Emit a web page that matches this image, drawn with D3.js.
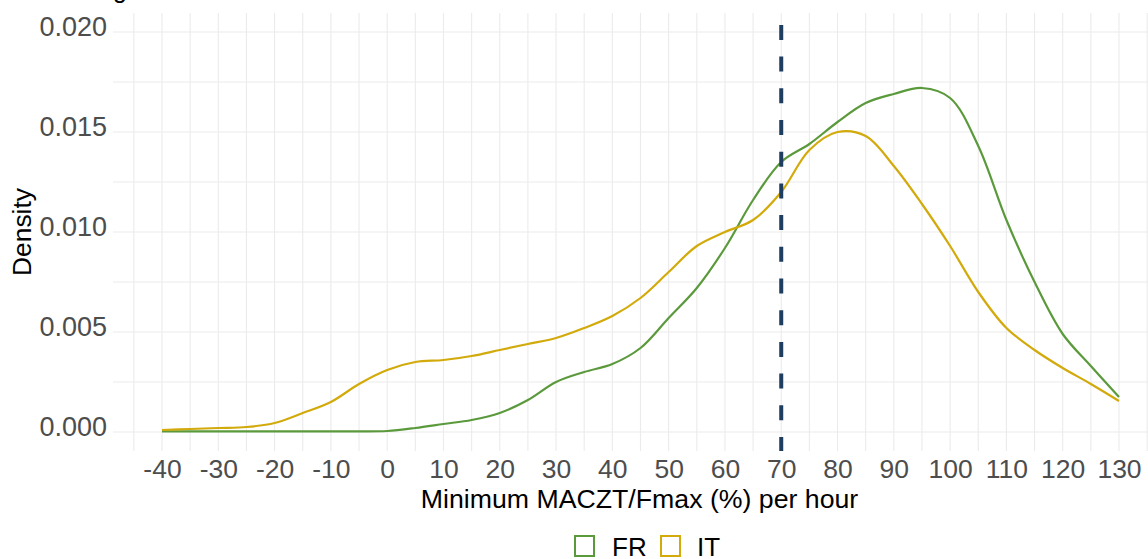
<!DOCTYPE html>
<html>
<head>
<meta charset="utf-8">
<script src="https://cdn.jsdelivr.net/npm/d3@7"></script>
<style>
  html, body { margin: 0; padding: 0; background: #fff; }
  svg { display: block; }
</style>
</head>
<body>
<svg id="chart" width="1148" height="559"></svg>
<script>
// ---- data ----
const xValues = [-40,-35,-30,-25,-20,-15,-10,-5,0,5,10,15,20,25,30,35,40,45,50,55,60,65,70,75,80,85,90,95,100,105,110,115,120,125,130];
const frDensity = [0.00003,0.00003,0.00003,0.00003,0.00003,0.00003,0.00003,0.00003,0.00005,0.0002,0.0004,0.0006,0.00095,0.0016,0.0025,0.003,0.0034,0.0042,0.0057,0.0072,0.0092,0.0116,0.0135,0.0144,0.0155,0.01645,0.0169,0.0172,0.0167,0.0143,0.0106,0.0075,0.0049,0.0033,0.00175];
const itDensity = [0.0001,0.00015,0.0002,0.00025,0.00045,0.00095,0.0015,0.0024,0.0031,0.0035,0.0036,0.0038,0.0041,0.0044,0.0047,0.0052,0.0058,0.0067,0.008,0.0093,0.01,0.0106,0.012,0.0141,0.015,0.0148,0.0133,0.0114,0.0093,0.007,0.0052,0.0041,0.0032,0.0024,0.00155];
const seriesNames = ["FR", "IT"];
const seriesColors = ["#5b9a3c", "#d2aa0b"];
const xTicks = [-40,-30,-20,-10,0,10,20,30,40,50,60,70,80,90,100,110,120,130];
const yTicks = [0, 0.005, 0.01, 0.015, 0.02];
const xGrid = [-45,-40,-35,-30,-25,-20,-15,-10,-5,0,5,10,15,20,25,30,35,40,45,50,55,60,65,70,75,80,85,90,95,100,105,110,115,120,125,130,135];
const yGrid = [0, 0.0025, 0.005, 0.0075, 0.01, 0.0125, 0.015, 0.0175, 0.02];
const refLine = 70;
const xTitle = "Minimum MACZT/Fmax (%) per hour";
const yTitle = "Density";

// ---- layout ----
const svg = d3.select("#chart");
const panel = {left: 113, right: 1166, top: 13, bottom: 451};
const x = d3.scaleLinear().domain([-40, 130]).range([162, 1119]);
const y = d3.scaleLinear().domain([0, 0.02]).range([432, 32]);
const font = "'Liberation Sans', Arial, sans-serif";

svg.append("defs").append("clipPath").attr("id", "clip")
  .append("rect").attr("x", panel.left).attr("y", panel.top)
  .attr("width", panel.right - panel.left).attr("height", panel.bottom - panel.top);

// clipped title descender
svg.append("text").attr("x", 113).attr("y", -2)
  .attr("font-family", font).attr("font-size", 25).attr("fill", "#000").text("g");

// grid
const grid = svg.append("g").attr("clip-path", "url(#clip)");
grid.selectAll("line.v").data(xGrid).join("line")
  .attr("x1", d => x(d)).attr("x2", d => x(d))
  .attr("y1", panel.top).attr("y2", panel.bottom)
  .attr("stroke", "#ebebeb").attr("stroke-width", 1.1);
grid.selectAll("line.h").data(yGrid).join("line")
  .attr("x1", panel.left).attr("x2", panel.right)
  .attr("y1", d => y(d)).attr("y2", d => y(d))
  .attr("stroke", "#ebebeb").attr("stroke-width", 1.1);

// axes
const xAxis = svg.append("g").attr("transform", `translate(0,${panel.bottom})`)
  .call(d3.axisBottom(x).tickValues(xTicks).tickSize(0).tickPadding(10).tickFormat(d => d));
xAxis.select(".domain").remove();
xAxis.selectAll("text").attr("font-family", font).attr("font-size", 26.5).attr("fill", "#4d4d4d")
  .attr("dy", null).attr("y", 27);

const yAxis = svg.append("g").attr("transform", `translate(${panel.left},0)`)
  .call(d3.axisLeft(y).tickValues(yTicks).tickSize(0).tickPadding(6).tickFormat(d3.format(".3f")));
yAxis.select(".domain").remove();
yAxis.selectAll("text").attr("font-family", font).attr("font-size", 27).attr("fill", "#4d4d4d")
  .attr("dy", "-0.12em").attr("dominant-baseline", "middle");

// titles
svg.append("text").attr("x", (panel.left + panel.right) / 2).attr("y", 508)
  .attr("text-anchor", "middle").attr("font-family", font).attr("font-size", 26.7).attr("fill", "#000")
  .text(xTitle);
svg.append("text").attr("transform", `translate(31,${(panel.top + panel.bottom) / 2}) rotate(-90)`)
  .attr("text-anchor", "middle").attr("font-family", font).attr("font-size", 26.4).attr("fill", "#000")
  .text(yTitle);

// lines
const data = [frDensity, itDensity].map((vals, i) => ({
  name: seriesNames[i], color: seriesColors[i],
  pts: xValues.map((xv, j) => [xv, vals[j]])
}));
const line = d3.line().x(d => x(d[0])).y(d => y(d[1])).curve(d3.curveCatmullRom.alpha(0.5));
const plot = svg.append("g").attr("clip-path", "url(#clip)");
plot.selectAll("path.series").data(data).join("path")
  .attr("d", d => line(d.pts)).attr("fill", "none")
  .attr("stroke", d => d.color).attr("stroke-width", 2.2);

// reference line
plot.append("line").attr("x1", x(refLine)).attr("x2", x(refLine))
  .attr("y1", 452).attr("y2", panel.top)
  .attr("stroke", "#1f3d5f").attr("stroke-width", 4).attr("stroke-dasharray", "15,16.7");

// legend
const legend = svg.append("g");
const legX = [575, 661];
const legTX = [612, 697];
data.forEach((d, i) => {
  legend.append("rect").attr("x", legX[i]).attr("y", 536).attr("width", 19).attr("height", 20)
    .attr("fill", "none").attr("stroke", d.color).attr("stroke-width", 2);
  legend.append("text").attr("x", legTX[i]).attr("y", 556)
    .attr("font-family", font).attr("font-size", 26).attr("fill", "#000").text(d.name);
});
</script>
</body>
</html>
